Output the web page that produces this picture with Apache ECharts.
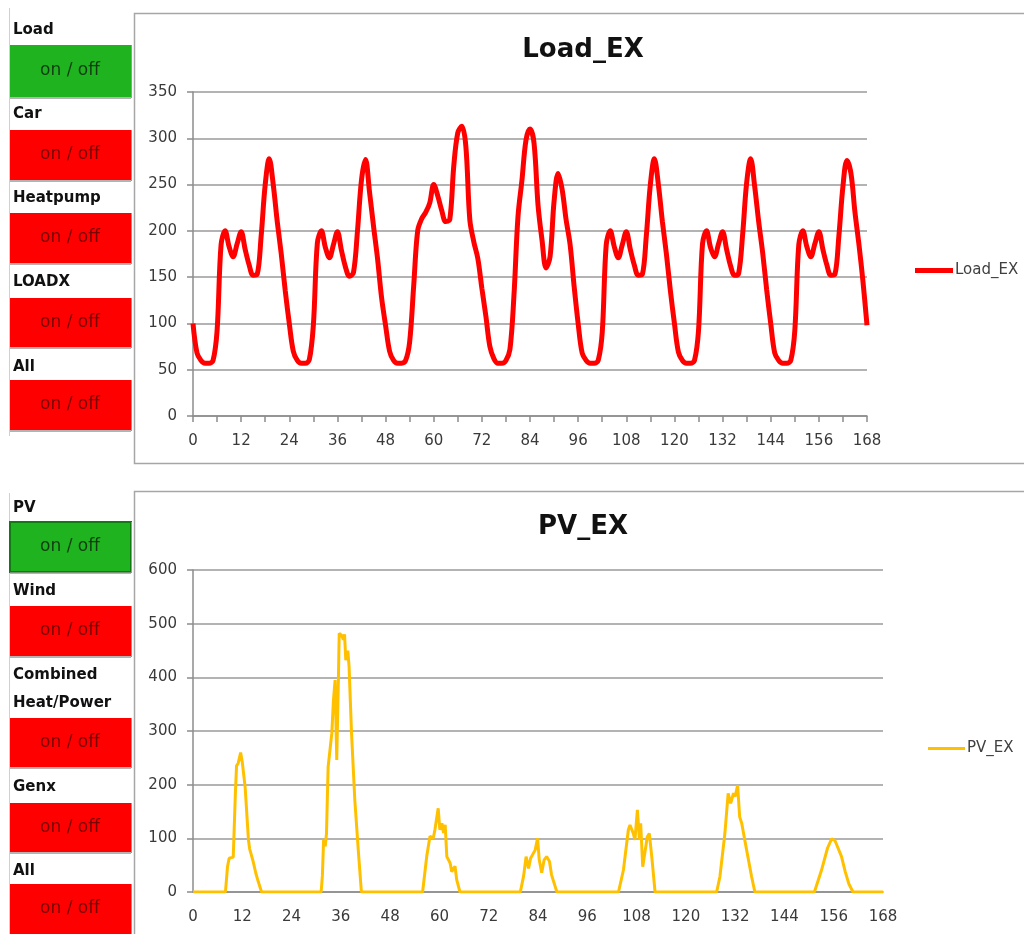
<!DOCTYPE html>
<html><head><meta charset="utf-8">
<script src="https://cdn.jsdelivr.net/npm/echarts@6/dist/echarts.min.js"></script>
<style>html,body{margin:0;padding:0;background:#fff}#c{width:1024px;height:934px}</style>
</head><body><div id="c"></div>
<script>
// ---------- data ----------
const loadTitle = 'Load_EX';
const pvTitle = 'PV_EX';
const xTickLabels = [0, 12, 24, 36, 48, 60, 72, 84, 96, 108, 120, 132, 144, 156, 168];
const loadYTicks = [0, 50, 100, 150, 200, 250, 300, 350];
const pvYTicks = [0, 100, 200, 300, 400, 500, 600];
// hourly load values, hour 0 .. 168
const loadValues = [
  100, 68, 60, 57, 57, 60, 92, 185, 200, 183, 172, 186, 199, 180, 163, 152, 153, 195, 250, 278, 250, 210, 175, 135,
  100, 70, 60, 57, 57, 61, 98, 187, 200, 182, 171, 185, 199, 179, 161, 151, 155, 200, 255, 277, 242, 205, 170, 128,
  98, 70, 60, 57, 57, 60, 80, 140, 200, 213, 220, 230, 250, 238, 222, 210, 212, 270, 306, 313, 292, 212, 188, 170,
  138, 108, 75, 62, 57, 57, 60, 72, 130, 215, 255, 298, 310, 295, 228, 190, 160, 172, 232, 262, 245, 212, 185, 140,
  100, 68, 60, 57, 57, 60, 90, 185, 200, 183, 171, 185, 199, 180, 163, 152, 153, 195, 250, 278, 250, 210, 175, 135,
  100, 69, 60, 57, 57, 60, 92, 186, 200, 182, 172, 186, 199, 180, 162, 152, 154, 196, 252, 278, 248, 210, 176, 136,
  100, 68, 60, 57, 57, 60, 92, 185, 200, 183, 172, 186, 199, 180, 163, 152, 153, 195, 248, 276, 262, 220, 185, 145,
  98
];
// PV readings: hour positions and values
const pvHours = [
  0, 7.9, 8.4, 8.8, 9.8, 10.3, 10.6, 11, 11.6, 12, 12.7, 13.5, 13.8, 14.1, 14.7, 15.3, 15.9, 16.7,
  31.2, 31.5, 31.8, 32.2, 32.5, 32.9, 33.8, 34.2, 34.6, 35, 35.4, 35.6, 36.2, 36.6, 36.9, 37.2, 37.7, 38, 38.6, 39.4, 40.3, 41,
  55.9, 56.9, 57.7, 58.5, 58.9, 59.7, 60.1, 60.6, 61, 61.4, 61.8, 62.6, 63, 63.8, 64.2, 65,
  79.7, 80.5, 81.1, 81.7, 82.2, 83.3, 83.9, 84.3, 84.9, 85.5, 86.1, 86.8, 87.3, 88.6,
  103.6, 104.8, 106, 106.4, 107.2, 107.6, 108.2, 108.7, 109, 109.5, 110, 110.6, 111.1, 111.7, 112.5,
  127.5, 128.3, 129.5, 130.3, 130.9, 131.6, 132, 132.6, 133.1, 133.6, 134.8, 136, 136.8,
  151.3, 153, 154.5, 155.5, 156.3, 157.1, 157.9, 158.8, 159.7, 160.7, 168
];
const pvValues = [
  0, 0, 47, 63, 65, 180, 235, 240, 260, 242, 195, 97, 80, 72, 55, 35, 19, 0,
  0, 30, 97, 85, 109, 233, 296, 358, 395, 246, 395, 482, 478, 470, 480, 432, 450, 420, 296, 171, 72, 0,
  0, 66, 104, 100, 116, 156, 116, 128, 110, 125, 66, 54, 38, 48, 23, 0,
  0, 30, 66, 44, 63, 78, 100, 60, 36, 60, 66, 57, 32, 0,
  0, 41, 116, 125, 109, 97, 153, 97, 128, 47, 72, 103, 109, 66, 0,
  0, 29, 109, 184, 165, 184, 178, 199, 140, 128, 78, 29, 0,
  0, 40, 82, 99, 96, 81, 66, 38, 15, 0, 0
];
const loadButtons = ['Load', 'Car', 'Heatpump', 'LOADX', 'All'];
const genButtons = ['PV', 'Wind', 'Combined\nHeat/Power', 'Genx', 'All'];
const buttonText = 'on / off';

// ---------- layout ----------
const FONT = '"DejaVu Sans", sans-serif';
const chart = echarts.init(document.getElementById('c'), null, {renderer: 'canvas'});

const loadData = loadValues.map((v, i) => [i, v]);
const pvData = pvHours.map((h, i) => [h, pvValues[i]]);

const topLabelY = [30, 114, 198, 282, 367];
const topBoxY = [[45, 97], [130, 180], [213, 263], [298, 347], [380, 430]];
const botLabelY = [508, 591, 689, 787, 871];
const botBoxY = [[522, 572], [606, 656], [718, 767], [803, 852], [884, 940]];

const graphics = [];
// panels
graphics.push({type: 'rect', shape: {x: 134.5, y: 13.5, width: 1000, height: 450}, style: {fill: 'none', stroke: '#a6a6a6', lineWidth: 1.5}, z: 0});
graphics.push({type: 'rect', shape: {x: 134.5, y: 491.5, width: 1000, height: 500}, style: {fill: 'none', stroke: '#a6a6a6', lineWidth: 1.5}, z: 0});
// left cell borders
graphics.push({type: 'line', shape: {x1: 9.5, y1: 8, x2: 9.5, y2: 436}, style: {stroke: '#d0d0d0', lineWidth: 1}});
graphics.push({type: 'line', shape: {x1: 9.5, y1: 493, x2: 9.5, y2: 934}, style: {stroke: '#d0d0d0', lineWidth: 1}});

function addButtons(names, labelY, boxY, firstOn) {
  names.forEach((n, i) => {
    const on = i === 0;
    const [y0, y1] = boxY[i];
    graphics.push({type: 'text', style: {text: n, x: 13, y: labelY[i], font: 'bold 15px ' + FONT, fill: '#111', textVerticalAlign: 'middle', lineHeight: 28}, z: 5});
    graphics.push({type: 'rect', shape: {x: 10, y: y0, width: 121, height: y1 - y0},
      style: {fill: on ? '#1fb41f' : '#ff0000', stroke: on && firstOn ? '#127a12' : null, lineWidth: on && firstOn ? 2 : 0}, z: 4});
    graphics.push({type: 'line', shape: {x1: 10, y1: y1 + 1, x2: 131, y2: y1 + 1}, style: {stroke: '#9a9a9a', lineWidth: 1.5}, z: 4});
    graphics.push({type: 'line', shape: {x1: 131.5, y1: y0, x2: 131.5, y2: y1 + 1}, style: {stroke: '#9a9a9a', lineWidth: 1}, z: 4});
    graphics.push({type: 'text', style: {text: buttonText, x: 70, y: (y0 + y1) / 2 + (i === 4 && y1 > 900 ? -3 : 0), font: '17px ' + FONT,
      fill: on ? '#123d12' : '#7a0000', textAlign: 'center', textVerticalAlign: 'middle'}, z: 6});
  });
}
addButtons(loadButtons, topLabelY, topBoxY, false);
addButtons(genButtons, botLabelY, botBoxY, true);

// titles
graphics.push({type: 'text', style: {text: loadTitle, x: 583, y: 50, font: 'bold 26px ' + FONT, fill: '#111', textAlign: 'center', textVerticalAlign: 'middle'}, z: 5});
graphics.push({type: 'text', style: {text: pvTitle, x: 583, y: 527, font: 'bold 26px ' + FONT, fill: '#111', textAlign: 'center', textVerticalAlign: 'middle'}, z: 5});

const axisLabelStyle = {color: '#3a3a3a', fontFamily: FONT, fontSize: 15};
const gridLine = {show: true, lineStyle: {color: '#9a9a9a', width: 1.5}};

chart.setOption({
  animation: false,
  backgroundColor: '#fff',
  graphic: graphics,
  grid: [
    {left: 193, right: 1024 - 867, top: 92, bottom: 934 - 416},
    {left: 193, right: 1024 - 883, top: 570, bottom: 934 - 892}
  ],
  legend: [
    {data: [loadTitle], left: 910, top: 258, icon: 'rect', itemWidth: 38, itemHeight: 5, itemGap: 2,
     textStyle: {color: '#404040', fontFamily: FONT, fontSize: 15, padding: [0, 0, 0, -3]}},
    {data: [pvTitle], left: 923, top: 736, icon: 'rect', itemWidth: 37, itemHeight: 3, itemGap: 2,
     textStyle: {color: '#404040', fontFamily: FONT, fontSize: 15, padding: [0, 0, 0, -3]}}
  ],
  xAxis: [
    {type: 'value', gridIndex: 0, min: 0, max: 168, interval: 6,
     axisLine: {show: true, lineStyle: {color: '#8c8c8c', width: 1.5}},
     axisTick: {show: true, length: 6, lineStyle: {color: '#8c8c8c', width: 1.5}},
     axisLabel: {...axisLabelStyle, margin: 18, formatter: v => xTickLabels.includes(v) ? String(v) : ''},
     splitLine: {show: false}},
    {type: 'value', gridIndex: 1, min: 0, max: 168, interval: 12,
     axisLine: {show: true, lineStyle: {color: '#8c8c8c', width: 1.5}},
     axisTick: {show: false},
     axisLabel: {...axisLabelStyle, margin: 18, formatter: v => xTickLabels.includes(v) ? String(v) : ''},
     splitLine: {show: false}}
  ],
  yAxis: [
    {type: 'value', gridIndex: 0, min: loadYTicks[0], max: loadYTicks[loadYTicks.length - 1], interval: 50,
     axisLine: {show: true, lineStyle: {color: '#8c8c8c', width: 1.5}},
     axisTick: {show: true, length: 6, lineStyle: {color: '#8c8c8c', width: 1.5}},
     axisLabel: {...axisLabelStyle, margin: 16},
     splitLine: gridLine},
    {type: 'value', gridIndex: 1, min: pvYTicks[0], max: pvYTicks[pvYTicks.length - 1], interval: 100,
     axisLine: {show: true, lineStyle: {color: '#8c8c8c', width: 1.5}},
     axisTick: {show: true, length: 6, lineStyle: {color: '#8c8c8c', width: 1.5}},
     axisLabel: {...axisLabelStyle, margin: 16},
     splitLine: gridLine}
  ],
  series: [
    {name: loadTitle, type: 'line', xAxisIndex: 0, yAxisIndex: 0, data: loadData, showSymbol: false, smooth: 0.35,
     lineStyle: {color: '#ff0000', width: 5}, itemStyle: {color: '#ff0000'}, z: 3},
    {name: pvTitle, type: 'line', xAxisIndex: 1, yAxisIndex: 1, data: pvData, showSymbol: false, smooth: false,
     lineStyle: {color: '#ffc000', width: 3}, itemStyle: {color: '#ffc000'}, z: 3}
  ]
});
</script>
</body></html>
